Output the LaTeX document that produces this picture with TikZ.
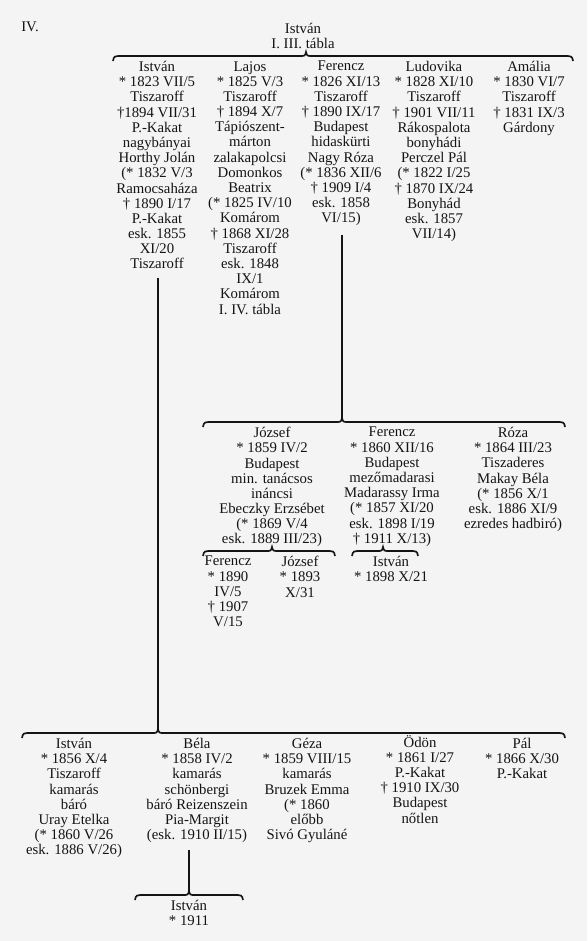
\documentclass[tikz,border=0pt]{standalone}
\usepackage{fontspec}
\setmainfont{Liberation Serif}
\usetikzlibrary{calc}
\definecolor{paper}{HTML}{F4F4F4}
\definecolor{ink}{HTML}{141414}
\tikzset{
  person/.style={anchor=north,align=center,inner sep=0pt,text=ink,font=\fontsize{10.5}{10.8}\selectfont},
  famline/.style={draw=ink,line width=1.2pt},
  stem/.style={draw=ink,line width=1.3pt}
}
% #1 left end, #2 tip of the cusp, #3 right end
\newcommand\famrule[3]{%
  \draw[famline] ($(#1)+(0,5)$) .. controls ($(#1)+(1,0)$) .. ($(#1)+(10,0)$)
    -- ($(#2)+(-7,4)$) .. controls ($(#2)+(-1,4)$) .. (#2)
    .. controls ($(#2)+(1,4)$) .. ($(#2)+(7,4)$)
    -- ($(#3)+(-10,0)$) .. controls ($(#3)+(-1,0)$) .. ($(#3)+(0,5)$);}
\begin{document}
\begin{tikzpicture}[x=0.025cm,y=-0.025cm]
\fill[paper] (0,0) rectangle (587,941);
\useasboundingbox (0,0) rectangle (587,941);
\node[person,anchor=center] (tab) at (30,27) {IV.};
\node[person,anchor=center] (root) at (303,36) {István\\I. III. tábla};
% first generation
\coordinate (L1) at (113,56); \coordinate (T1) at (306,52); \coordinate (R1) at (573,56);
\famrule{L1}{T1}{R1}
\node[person] (ist) at (157,61) {István\\* 1823 VII/5\\Tiszaroff\\†1894 VII/31\\P.-Kakat\\nagybányai\\Horthy Jolán\\(* 1832 V/3\\Ramocsaháza\\† 1890 I/17\\P.-Kakat\\esk. 1855\\XI/20\\Tiszaroff};
\node[person] (laj) at (250,61) {Lajos\\* 1825 V/3\\Tiszaroff\\† 1894 X/7\\Tápiószent-\\márton\\zalakapolcsi\\Domonkos\\Beatrix\\(* 1825 IV/10\\Komárom\\† 1868 XI/28\\Tiszaroff\\esk. 1848\\IX/1\\Komárom\\I. IV. tábla};
\node[person] (fer) at (341,61) {Ferencz\\* 1826 XI/13\\Tiszaroff\\† 1890 IX/17\\Budapest\\hidaskürti\\Nagy Róza\\(* 1836 XII/6\\† 1909 I/4\\esk. 1858\\VI/15)};
\node[person] (lud) at (434,61) {Ludovika\\* 1828 XI/10\\Tiszaroff\\† 1901 VII/11\\Rákospalota\\bonyhádi\\Perczel Pál\\(* 1822 I/25\\† 1870 IX/24\\Bonyhád\\esk. 1857\\VII/14)};
\node[person] (ama) at (529,61) {Amália\\* 1830 VI/7\\Tiszaroff\\† 1831 IX/3\\Gárdony};
% children of Ferencz
\coordinate (L2) at (203,422); \coordinate (T2) at (342,418); \coordinate (R2) at (565,422);
\famrule{L2}{T2}{R2}
\draw[stem,shorten <=6pt] (fer.south -| T2) -- (T2);
\node[person] (jozs) at (272,427) {József\\* 1859 IV/2\\Budapest\\min. tanácsos\\ináncsi\\Ebeczky Erzsébet\\(* 1869 V/4\\esk. 1889 III/23)};
\node[person] (fer2) at (392,427) {Ferencz\\* 1860 XII/16\\Budapest\\mezőmadarasi\\Madarassy Irma\\(* 1857 XI/20\\esk. 1898 I/19\\† 1911 X/13)};
\node[person] (roza) at (513,427) {Róza\\* 1864 III/23\\Tiszaderes\\Makay Béla\\(* 1856 X/1\\esk. 1886 XI/9\\ezredes hadbiró)};
% grandchildren
\coordinate (L3) at (203,551); \coordinate (T3) at (272,547); \coordinate (R3) at (335,551);
\famrule{L3}{T3}{R3}
\node[person] (fer3) at (228,556) {Ferencz\\* 1890\\IV/5\\† 1907\\V/15};
\node[person] (jozs3) at (300,556) {József\\* 1893\\X/31};
\coordinate (L4) at (352,551); \coordinate (T4) at (383,547); \coordinate (R4) at (418,551);
\famrule{L4}{T4}{R4}
\node[person] (ist3) at (391,556) {István\\* 1898 X/21};
% children of István
\coordinate (L5) at (22,733); \coordinate (T5) at (158,729); \coordinate (R5) at (565,733);
\famrule{L5}{T5}{R5}
\draw[stem,shorten <=6pt] (ist.south -| T5) -- (T5);
\node[person] (ist2) at (74,738) {István\\* 1856 X/4\\Tiszaroff\\kamarás\\báró\\Uray Etelka\\(* 1860 V/26\\esk. 1886 V/26)};
\node[person] (bela) at (197,738) {Béla\\* 1858 IV/2\\kamarás\\schönbergi\\báró Reizenszein\\Pia-Margit\\(esk. 1910 II/15)};
\node[person] (geza) at (307,738) {Géza\\* 1859 VIII/15\\kamarás\\Bruzek Emma\\(* 1860\\előbb\\Sivó Gyuláné};
\node[person] (odon) at (420,735) {Ödön\\* 1861 I/27\\P.-Kakat\\† 1910 IX/30\\Budapest\\nőtlen};
\node[person] (pal) at (522,738) {Pál\\* 1866 X/30\\P.-Kakat};
% son of Béla
\coordinate (L6) at (135,895); \coordinate (T6) at (189,891); \coordinate (R6) at (243,895);
\famrule{L6}{T6}{R6}
\draw[stem,shorten <=5pt] (bela.south -| T6) -- (T6);
\node[person] (ist4) at (189,900) {István\\* 1911};
\end{tikzpicture}
\end{document}
